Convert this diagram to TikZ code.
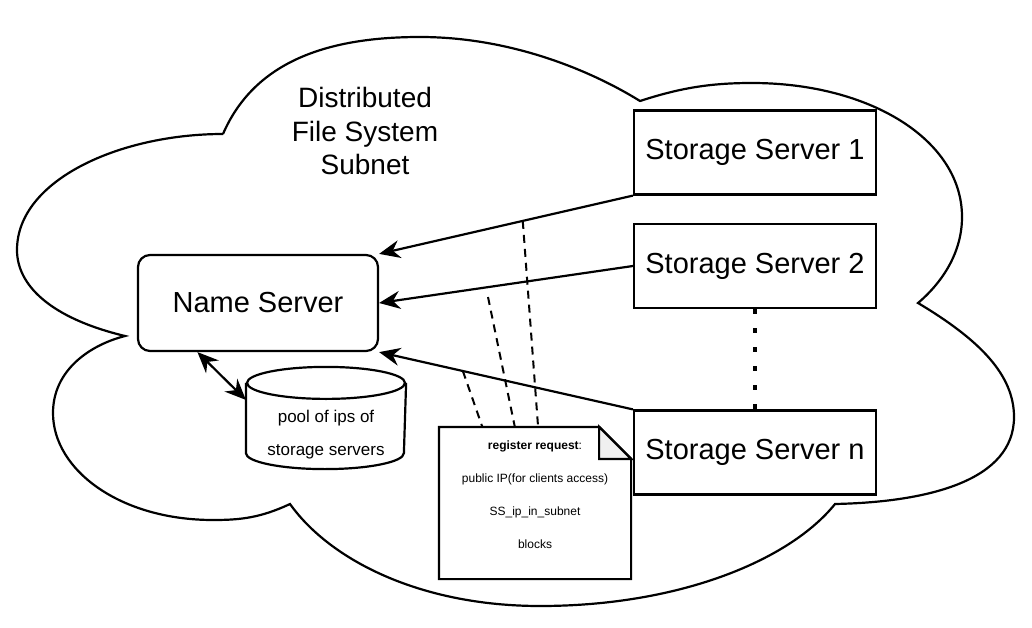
\documentclass[tikz,border=0pt]{standalone}
\usepackage{fontspec}
\setmainfont{Liberation Sans}
\usetikzlibrary{arrows.meta,calc}

\begin{document}
\begin{tikzpicture}[x=1pt,y=-1pt,line width=2.2pt]
  \tikzstyle{every node}+=[inner sep=0pt]
  \tikzstyle{server}=[draw,minimum width=242pt,minimum height=84pt,font=\fontsize{29}{34}\selectfont]
  \tikzstyle{tip}=[Stealth[length=21pt,width=18pt,inset=7pt]]
  \tikzstyle{conn}=[-{Stealth[length=21pt,width=18pt,inset=7pt]}]
  \tikzstyle{regline}=[line width=2pt,dash pattern=on 8pt off 6pt]
  \useasboundingbox (0,0) rectangle (1032,628);
  % subnet cloud
  \draw [black] (223,134) .. controls (255,60) and (330,37) .. (420,37)
    .. controls (510,37) and (590,70) .. (640,101)
    .. controls (680,88) and (710,83) .. (752,83)
    .. controls (870,83) and (962,140) .. (962,217)
    .. controls (962,250) and (945,280) .. (918,303)
    .. controls (980,340) and (1014,375) .. (1014,417)
    .. controls (1014,480) and (930,502) .. (835,504)
    .. controls (790,560) and (680,606) .. (540,606)
    .. controls (420,606) and (330,560) .. (290,504)
    .. controls (260,518) and (240,520) .. (213,520)
    .. controls (120,520) and (53,470) .. (53,413)
    .. controls (53,370) and (90,345) .. (125,336)
    .. controls (50,318) and (17,285) .. (17,250)
    .. controls (17,180) and (120,134) .. (223,134);
  \node [align=center,font=\fontsize{28}{33.5}\selectfont] (title) at (365,131) {Distributed\\File System\\Subnet};
  % servers
  \node [draw,rounded corners=12pt,minimum width=240pt,minimum height=96pt,font=\fontsize{29}{34}\selectfont] (ns) at (258,303) {Name Server};
  \node [server] (ss1) at (755,152.5) {Storage Server 1};
  \node [server] (ss2) at (755,266) {Storage Server 2};
  \node [server] (ssn) at (755,452.5) {Storage Server n};
  % pool of ips
  \node [minimum width=158pt,minimum height=68pt,align=center,font=\fontsize{17}{33}\selectfont] (pool) at (326,435) {pool of ips of\\storage servers};
  \draw [black] ([yshift=17pt]pool.north) ellipse (79pt and 16pt);
  \draw [black] ([yshift=17pt]pool.north west) -- ([yshift=17pt]pool.south west)
    arc (180:360:79pt and 16pt) -- ([yshift=17pt]pool.north east);
  % register request note
  \node [minimum width=190pt,minimum height=150pt] (note) at (535,503) {};
  \draw [black] (note.north west) -- ([xshift=-32pt]note.north east) -- ([yshift=-32pt]note.north east)
    -- (note.south east) -- (note.south west) -- cycle;
  \draw [black,fill=gray!12] ([xshift=-32pt]note.north east) -- ([xshift=-32pt,yshift=-32pt]note.north east)
    -- ([yshift=-32pt]note.north east) -- cycle;
  \node [align=center,font=\fontsize{12}{33}\selectfont] (req) at (535,495) {\textbf{register request}:\\public IP(for clients access)\\SS\_ip\_in\_subnet\\blocks};
  % connections
  \draw [conn] (ss1.south west) -- (ns.north east);
  \draw [conn] (ss2.west) -- (ns.east);
  \draw [conn] (ssn.north west) -- (ns.south east);
  \draw [{Stealth[length=21pt,width=18pt,inset=7pt]}-{Stealth[length=21pt,width=18pt,inset=7pt]}] ($(ns.south west)!0.25!(ns.south east)$) -- (pool.north west);
  \draw [line width=4pt,dash pattern=on 5pt off 14pt] (ss2.south) -- (ssn.north);
  \coordinate (r1) at ($(ss1.south west)!0.434!(ns.north east)$);
  \coordinate (r2) at (488,297);
  \coordinate (r3) at ($(ssn.north west)!0.67!(ns.south east)$);
  \draw [regline] (r1) -- ($(note.north west)!0.516!(note.north east)$);
  \draw [regline] (r2) -- ($(note.north west)!0.395!(note.north east)$);
  \draw [regline] (r3) -- ($(note.north west)!0.226!(note.north east)$);
\end{tikzpicture}
\end{document}
